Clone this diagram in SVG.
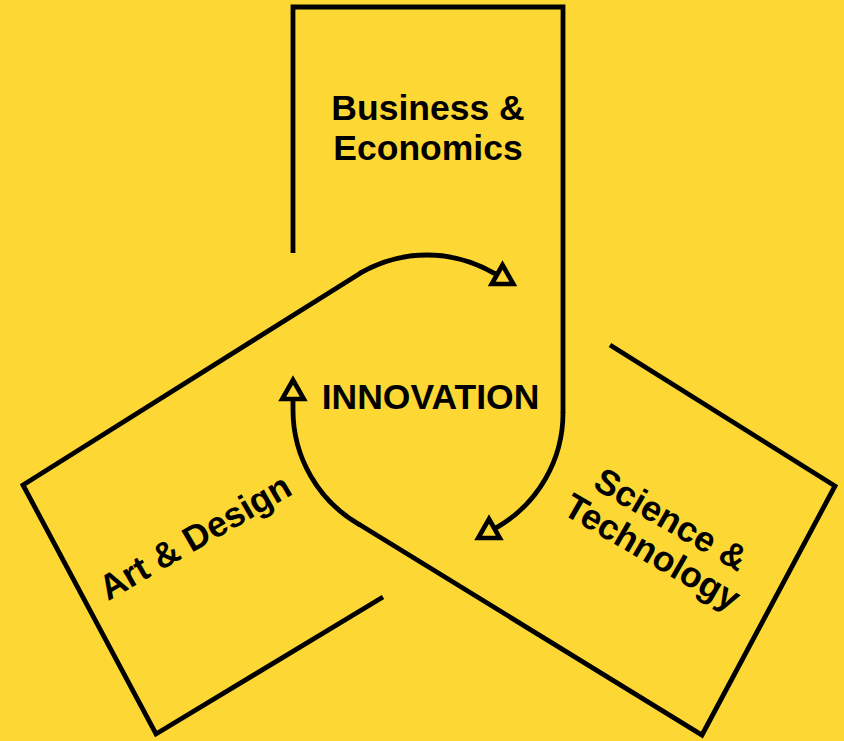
<svg xmlns="http://www.w3.org/2000/svg" width="844" height="741" viewBox="0 0 844 741">
  <style>
    .frame { fill: none; stroke: #000; stroke-width: 4.8; stroke-linejoin: miter; stroke-linecap: butt; }
    .flow { fill: none; stroke: #000; stroke-width: 4.8; stroke-linecap: round; marker-end: url(#head); }
    .label { font-family: "Liberation Sans", Arial, sans-serif; font-weight: bold; font-size: 35.5px; fill: #000; text-anchor: middle; }
  </style>
  <defs>
    <!-- open upright triangle, fixed orientation, centred on the path end -->
    <marker id="head" markerUnits="userSpaceOnUse" viewBox="-18 -18 36 36" refX="0" refY="0" markerWidth="36" markerHeight="36" orient="0" overflow="visible">
      <path d="M0,-10.5 L10.8,8.5 L-10.8,8.5 Z" fill="#FDD835" stroke="#000" stroke-width="4.6" stroke-linejoin="miter"/>
    </marker>
  </defs>

  <rect width="844" height="741" fill="#FDD835"/>

  <g id="node-business">
    <path class="frame" d="M293,253 V7 H563 V413"/>
    <text class="label" x="428" y="120">Business &amp;</text>
    <text class="label" x="428" y="159.5">Economics</text>
  </g>

  <g id="node-art">
    <path class="frame" d="M383,597 L156,734 L23,485 L361,272.7"/>
    <text class="label" transform="translate(201,547.5) rotate(-30)">Art &amp; Design</text>
  </g>

  <g id="node-science">
    <path class="frame" d="M610,345 L835,486 L702,735 L359,524.3"/>
    <g transform="translate(665,530) rotate(30)">
      <text class="label" x="0" y="0">Science &amp;</text>
      <text class="label" x="0" y="37.5">Technology</text>
    </g>
  </g>

  <g id="node-innovation">
    <text class="label" x="430.5" y="408.5">INNOVATION</text>
  </g>

  <g id="connectors">
    <path class="flow" d="M361,272.7 A132,132 0 0 1 493,272.7 L502.5,275.5"/>
    <path class="flow" d="M563,413 A132,132 0 0 1 497,527.3 L489,529.5"/>
    <path class="flow" d="M359,524.3 A132,132 0 0 1 293,410 L293,390.5"/>
  </g>
</svg>
